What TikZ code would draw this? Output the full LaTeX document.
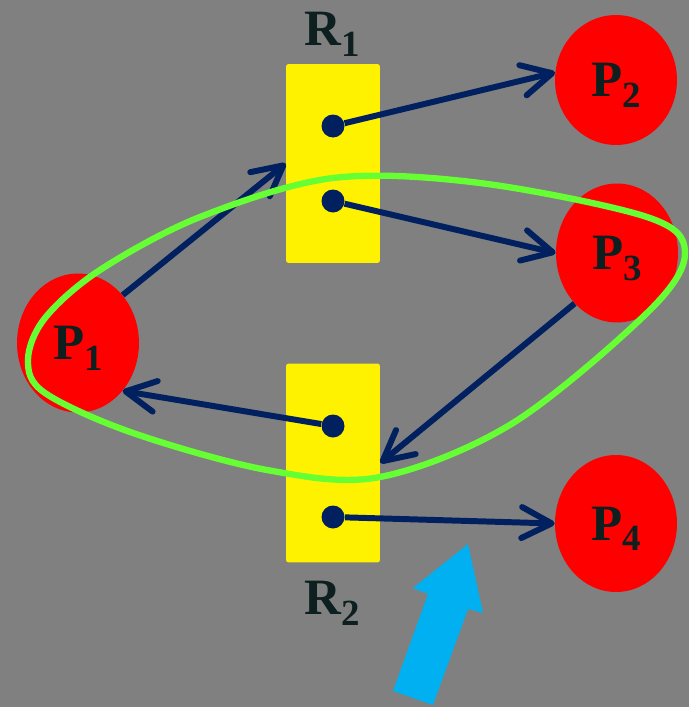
\documentclass[tikz,border=0pt]{standalone}
\usepackage{fontspec}
\setmainfont{Liberation Serif}
\usetikzlibrary{shapes.geometric,arrows.meta}

\definecolor{bggray}{RGB}{128,128,128}
\definecolor{navy}{RGB}{0,32,96}
\definecolor{lime}{RGB}{102,255,51}
\definecolor{sky}{RGB}{0,176,240}
\definecolor{ink}{RGB}{13,31,31}

\newcommand{\sublabel}[2]{#1\raisebox{-6pt}{\fontsize{21}{21}\selectfont #2}}

\begin{document}
\begin{tikzpicture}[x=0.02cm, y=-0.02cm,
    proc/.style={ellipse, fill=red, minimum width=2.44cm, minimum height=2.78cm,
      inner sep=0pt, text=ink, font=\fontsize{29}{29}\selectfont\bfseries, text depth=0pt},
    res/.style={fill=yellow, rounded corners=1.5pt, minimum width=1.88cm,
      minimum height=3.98cm, inner sep=0pt},
    reslabel/.style={text=ink, font=\fontsize{29}{29}\selectfont\bfseries, text depth=0pt},
    dot/.style={circle, fill=navy, minimum size=0.46cm, inner sep=0pt},
    link/.style={draw=navy, line width=3.4pt,
      -{Straight Barb[length=0.6cm, width=0.62cm, round]}}]

      \useasboundingbox (0,0) rectangle (689,707);
      \fill [bggray] (0,0) rectangle (689,707);

      %%%%%%%%%%%%%%%%%%%%%%%%%%%%%%%%%%%%%%%%%%%%%%%%%%%%%%%%%%%%%%
      % Resources
      %%%%%%%%%%%%%%%%%%%%%%%%%%%%%%%%%%%%%%%%%%%%%%%%%%%%%%%%%%%%%%
      \draw (333, 163.5) node [res] (r1) {};
      \draw (333, 463) node [res] (r2) {};
      \draw (332, 29) node [reslabel] (r1_lbl) {\sublabel{R}{1}};
      \draw (332, 598) node [reslabel] (r2_lbl) {\sublabel{R}{2}};

      \draw (333, 126) node [dot] (r1_top) {};
      \draw (333, 201) node [dot] (r1_bot) {};
      \draw (333, 426) node [dot] (r2_top) {};
      \draw (333, 517) node [dot] (r2_bot) {};

      %%%%%%%%%%%%%%%%%%%%%%%%%%%%%%%%%%%%%%%%%%%%%%%%%%%%%%%%%%%%%%
      % Processes
      %%%%%%%%%%%%%%%%%%%%%%%%%%%%%%%%%%%%%%%%%%%%%%%%%%%%%%%%%%%%%%
      \draw (78, 343) node [proc] (p1) {\sublabel{P}{1}};
      \draw (616, 80) node [proc, minimum height=2.6cm] (p2) {\sublabel{P}{2}};
      \draw (617, 253) node [proc] (p3) {\sublabel{P}{3}};
      \draw (616, 523.5) node [proc, minimum height=2.74cm] (p4) {\sublabel{P}{4}};

      \draw [link] (r1_top) -- (p2.173);
      \draw [link] (r1_bot) -- (p3.west);
      \draw [link] (p1.47) -- (r1.west);
      \draw [link] (p3.230) -- (r2.east);
      \draw [link] (r2_top) -- (p1.313);
      \draw [link] (r2_bot) -- (p4.west);

      % cycle
      \draw [lime, line width=3.6pt] plot [smooth cycle, tension=0.55] coordinates {
        (28,360) (45,318) (100,270) (200,217) (333,178) (480,183) (647,217)
        (685,252) (650,310) (513,423) (380,477) (267,470) (133,433) (45,393)};

      % pointer
      \fill [sky] (393,691) -- (428,594) -- (413,588) -- (468,544)
        -- (483,613) -- (468,609) -- (433,705) -- cycle;
\end{tikzpicture}
\end{document}
